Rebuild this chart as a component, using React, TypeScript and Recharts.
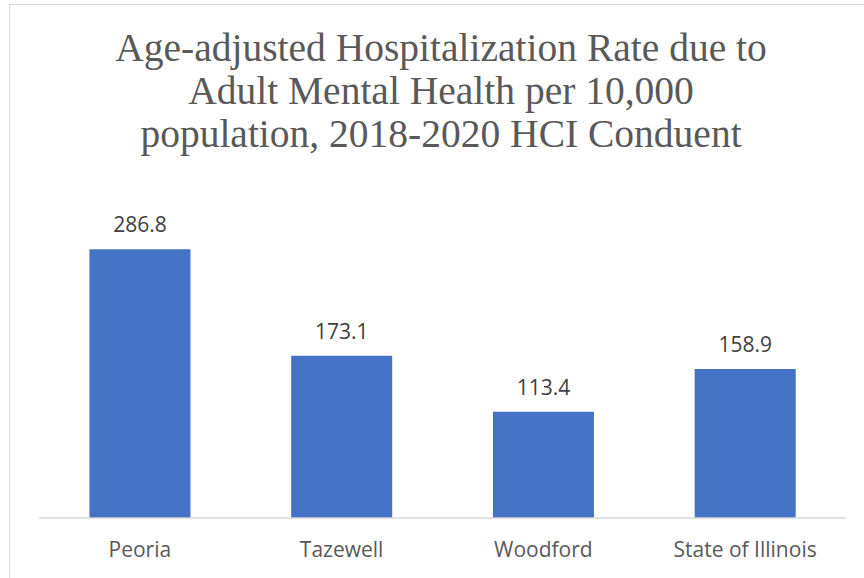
import { Bar, BarChart, LabelList, XAxis, YAxis } from 'recharts';

const regions = ['Peoria', 'Tazewell', 'Woodford', 'State of Illinois'];
const rates = [286.8, 173.1, 113.4, 158.9];
const titleLines = [
  'Age-adjusted Hospitalization Rate due to',
  'Adult Mental Health per 10,000',
  'population, 2018-2020 HCI Conduent',
];

const data = regions.map((name, i) => ({ name, rate: rates[i] }));

const labelFont = "'Open Sans', 'Noto Sans', sans-serif";

export default function App() {
  return (
    <div
      style={{
        position: 'fixed',
        left: 0,
        top: 0,
        width: 864,
        height: 578,
        overflow: 'hidden',
        background: '#fff',
      }}
    >
      {/* chart area frame, cropped at right and bottom */}
      <div
        style={{
          position: 'absolute',
          left: 9,
          top: 4,
          width: 900,
          height: 620,
          border: '1.5px solid #d9d9d9',
        }}
      />
      <svg width={864} height={170} style={{ position: 'absolute', left: 0, top: 0 }}>
        {titleLines.map((line, i) => (
          <text
            key={line}
            x={441}
            y={61 + i * 43}
            textAnchor="middle"
            fill="#595959"
            fontSize={39.5}
            fontFamily="'Liberation Serif', serif"
          >
            {line}
          </text>
        ))}
      </svg>
      <div style={{ position: 'absolute', left: 0, top: 0 }}>
        <BarChart
          width={864}
          height={578}
          data={data}
          margin={{ top: 190, right: 18, bottom: 30, left: 39 }}
          barCategoryGap="25%"
        >
          <XAxis
            dataKey="name"
            height={30}
            axisLine={{ stroke: '#d9d9d9', strokeWidth: 1.5 }}
            tickLine={false}
            tickSize={0}
            tickMargin={24}
            tick={{ fill: '#595959', fontSize: 21, fontFamily: labelFont }}
            interval={0}
          />
          <YAxis hide domain={[0, 350]} />
          <Bar dataKey="rate" fill="#4472C4" isAnimationActive={false}>
            <LabelList
              dataKey="rate"
              position="top"
              offset={17}
              fill="#404040"
              fontSize={21}
              fontFamily={labelFont}
              formatter={(v: number) => v.toFixed(1)}
            />
          </Bar>
        </BarChart>
      </div>
    </div>
  );
}
